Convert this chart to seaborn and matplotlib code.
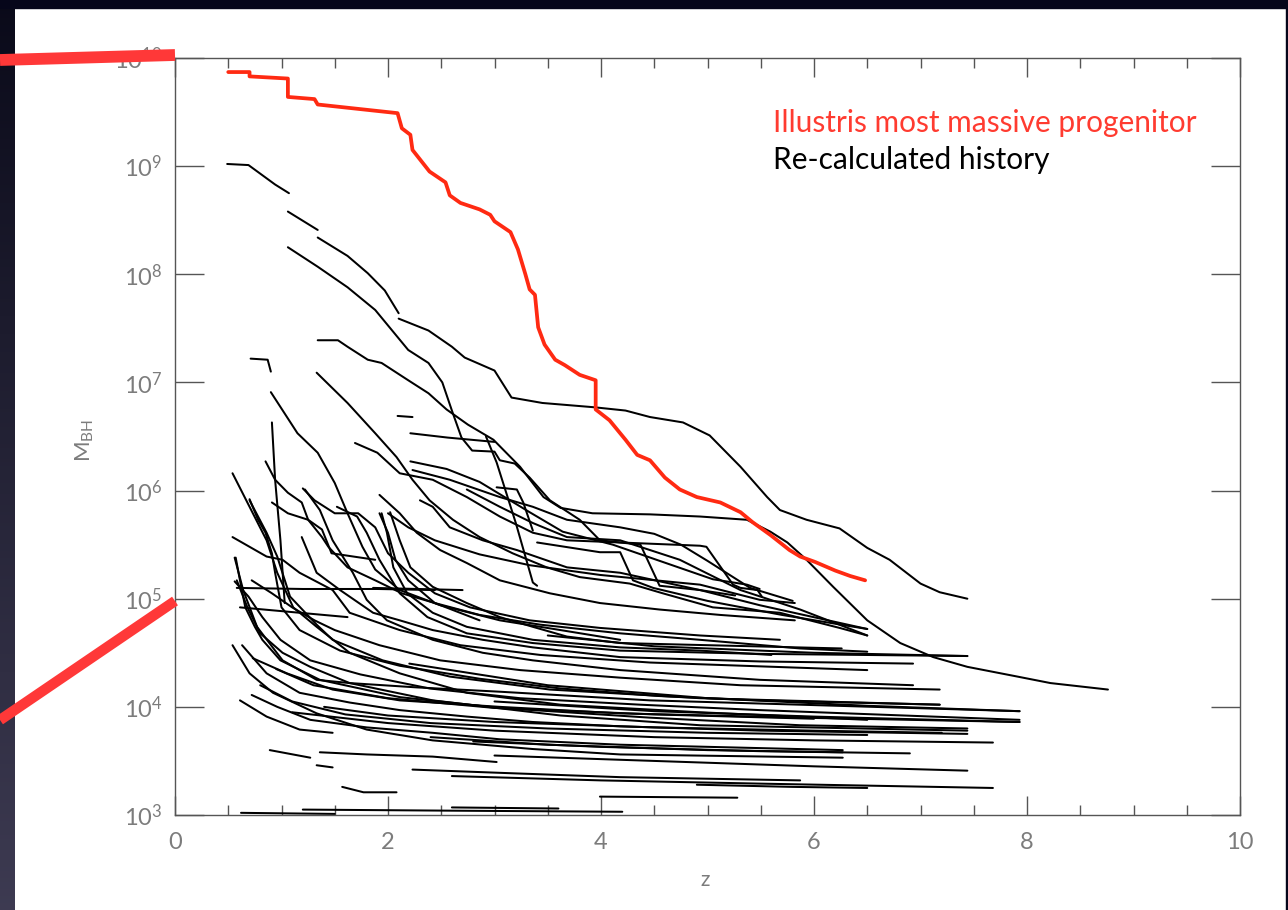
import numpy as np
import pandas as pd
import matplotlib
matplotlib.use("Agg")
import matplotlib.pyplot as plt
import seaborn as sns
from matplotlib.ticker import MultipleLocator, NullLocator, FixedLocator, FuncFormatter
from matplotlib.lines import Line2D
from matplotlib.patches import Rectangle

# ---------------- data: (redshift z, log10 M_BH) ----------------
red_z = [0.50, 0.70, 0.70, 1.06, 1.06, 1.31, 1.34, 2.09, 2.13, 2.21, 2.23, 2.39, 2.54, 2.58, 2.68, 2.86,
         2.96, 3.00, 3.15, 3.22, 3.29, 3.33, 3.38, 3.41, 3.47, 3.57, 3.66, 3.80, 3.95, 3.95, 4.08, 4.23,
         4.34, 4.46, 4.60, 4.74, 4.90, 5.12, 5.31, 5.42, 5.59, 5.77, 5.87, 6.01, 6.20, 6.34, 6.48]
red_logm = [9.87, 9.87, 9.83, 9.81, 9.64, 9.62, 9.57, 9.49, 9.35, 9.29, 9.15, 8.95, 8.85, 8.73, 8.66, 8.60,
            8.55, 8.49, 8.39, 8.23, 8.00, 7.86, 7.81, 7.51, 7.35, 7.21, 7.16, 7.07, 7.02, 6.75, 6.65, 6.47,
            6.33, 6.28, 6.12, 6.01, 5.94, 5.89, 5.80, 5.71, 5.59, 5.45, 5.39, 5.34, 5.26, 5.21, 5.17]

hist_A1 = ([0.49, 0.69, 0.94, 1.07], [9.02, 9.01, 8.83, 8.75])
hist_A2 = ([1.06, 1.34], [8.58, 8.41])
hist_A3 = ([1.34, 1.62, 1.81, 1.97, 2.10], [8.34, 8.17, 8.01, 7.85, 7.64])
hist_A4 = ([2.10, 2.38, 2.60, 2.72, 3.00, 3.16, 3.45, 3.94, 4.23, 4.46, 4.77, 5.02, 5.31, 5.56, 5.68,
            5.93, 6.24, 6.50, 6.71, 7.00, 7.18, 7.44],
           [7.59, 7.48, 7.33, 7.23, 7.11, 6.86, 6.81, 6.77, 6.74, 6.68, 6.63, 6.51, 6.22, 5.94, 5.82,
            5.73, 5.65, 5.47, 5.36, 5.14, 5.06, 5.00])
hist_B = ([1.06, 1.34, 1.62, 1.88, 2.19, 2.38, 2.51, 2.60, 2.69, 2.79, 3.00, 3.05, 3.19, 3.33, 3.52,
           3.80, 3.99, 4.37, 4.55, 4.93, 5.26],
          [8.25, 8.07, 7.88, 7.67, 7.30, 7.18, 7.00, 6.74, 6.49, 6.37, 6.36, 6.28, 6.25, 6.12, 5.91,
           5.73, 5.54, 5.50, 5.12, 5.08, 5.03])
hist_C = ([1.34, 1.53, 1.62, 1.81, 1.94, 2.19, 2.38, 2.55, 2.75, 2.99, 3.24, 3.46, 3.62, 3.92, 4.46,
           4.93, 5.37, 5.59, 5.75, 5.93, 6.18, 6.50, 6.81, 7.12, 7.44, 7.91, 8.22, 8.76],
          [7.39, 7.39, 7.33, 7.21, 7.18, 7.02, 6.90, 6.75, 6.61, 6.47, 6.22, 5.94, 5.84, 5.79, 5.78,
           5.76, 5.73, 5.62, 5.52, 5.36, 5.11, 4.80, 4.59, 4.46, 4.37, 4.28, 4.22, 4.16])
hist_hook = ([0.71, 0.87, 0.90], [7.22, 7.21, 7.10])
hist_V1 = ([0.91, 0.94, 0.99, 1.03], [6.63, 6.10, 5.54, 4.96])
hist_G1 = ([0.90, 1.15, 1.34, 1.50, 1.62, 1.76, 1.88, 2.11, 2.49, 3.05, 3.62, 4.18],
           [6.91, 6.53, 6.35, 6.07, 5.79, 5.48, 5.27, 5.08, 4.94, 4.80, 4.71, 4.62])
hist_G2 = ([1.33, 1.62, 1.88, 2.08, 2.23, 2.39, 2.61, 2.86, 3.17, 3.49, 3.80, 4.27, 4.58, 5.05, 5.68, 6.24, 6.50],
           [7.09, 6.81, 6.53, 6.31, 6.10, 5.91, 5.73, 5.57, 5.42, 5.29, 5.20, 5.14, 5.05, 4.92, 4.87, 4.73, 4.66])
hist_D = ([1.69, 1.90, 2.11, 2.42, 2.74, 3.05, 3.36, 3.68, 4.18, 4.93, 4.99, 5.24, 5.31, 5.47, 5.51],
          [6.44, 6.35, 6.16, 6.10, 5.94, 5.76, 5.61, 5.54, 5.52, 5.49, 5.48, 5.13, 5.10, 5.08, 5.02])
hist_HL = ([2.21, 2.56, 3.00], [6.53, 6.49, 6.45])
hist_dash = ([2.09, 2.23], [6.69, 6.68])
hist_diag = ([2.92, 3.02, 3.20, 3.36, 3.40], [6.50, 6.26, 5.70, 5.15, 5.12])
hist_K1 = ([2.21, 2.55, 2.86, 3.33, 3.64, 4.11, 4.58, 5.05, 5.37, 5.49],
           [6.27, 6.20, 6.08, 5.80, 5.62, 5.50, 5.34, 5.18, 5.13, 5.09])
hist_sq = ([3.02, 3.21, 3.27, 3.36], [6.03, 6.01, 5.89, 5.63])
hist_K2 = ([1.92, 2.11, 2.27, 2.49, 2.74, 3.05, 3.52, 3.99, 4.55, 5.12, 5.82],
           [5.96, 5.79, 5.61, 5.45, 5.33, 5.17, 5.05, 4.96, 4.90, 4.85, 4.80])
hist_K3 = ([2.23, 2.58, 3.05, 3.36, 3.68, 4.18, 4.50, 4.75, 5.00, 5.40, 5.80],
           [6.19, 6.10, 5.94, 5.85, 5.73, 5.66, 5.60, 5.50, 5.35, 5.10, 4.98])
hist_P1 = ([3.40, 3.99, 4.18, 4.30, 4.49, 5.00, 5.70, 6.50], [5.52, 5.43, 5.43, 5.17, 5.10, 4.98, 4.85, 4.72])

hist_s1 = ([0.54, 0.70, 0.92, 1.33, 1.80, 2.42, 3.36, 4.18, 6.27], [4.57, 4.31, 4.13, 3.94, 3.79, 3.69, 3.61, 3.56, 3.53])
hist_s2 = ([0.61, 0.86, 1.17, 1.48], [4.06, 3.91, 3.79, 3.76])
hist_s3 = ([0.72, 0.96, 1.27, 1.80, 2.42, 3.05, 4.18, 6.27], [4.11, 4.00, 3.88, 3.81, 3.76, 3.70, 3.65, 3.60])
hist_s4 = ([0.63, 0.86, 1.17, 1.64, 2.11, 2.74, 3.36, 4.18, 5.50, 7.44], [4.57, 4.31, 4.13, 4.04, 3.97, 3.91, 3.86, 3.82, 3.78, 3.75])
hist_s5 = ([0.73, 1.05, 1.48, 2.11, 3.05, 4.18, 5.87, 7.93], [4.45, 4.31, 4.16, 4.06, 4.00, 3.94, 3.90, 3.86])
hist_s6 = ([0.89, 1.27], [3.60, 3.53])
hist_s7 = ([1.33, 1.48], [3.46, 3.44])
hist_s8 = ([1.57, 1.77, 2.08], [3.26, 3.21, 3.21])
hist_s9 = ([1.36, 1.80, 2.42, 3.02], [3.58, 3.56, 3.54, 3.49])
hist_s10 = ([2.23, 3.05, 4.18, 5.87], [3.42, 3.39, 3.35, 3.32])
hist_b1 = ([0.62, 1.50], [3.02, 3.01])
hist_b2 = ([1.20, 2.60, 4.20], [3.05, 3.04, 3.03])
hist_b3 = ([2.60, 3.60], [3.07, 3.06])

hist_m1 = ([0.54, 0.70, 0.86, 0.96, 1.11, 1.33, 1.64, 2.11, 2.74, 3.62, 4.93, 6.50],
           [6.16, 5.85, 5.54, 5.24, 4.92, 4.74, 4.50, 4.31, 4.13, 4.02, 3.95, 3.88])
hist_m2 = ([0.70, 0.86, 0.96, 1.08, 1.33, 1.48, 1.95, 2.58, 3.52, 4.93, 7.18],
           [5.91, 5.61, 5.39, 5.02, 4.76, 4.62, 4.43, 4.28, 4.16, 4.08, 4.02])
hist_m3 = ([0.54, 0.70, 0.86, 1.01, 1.17, 1.48, 1.64, 2.11, 2.68, 3.43, 4.46, 6.50],
           [5.57, 5.48, 5.39, 5.36, 5.24, 5.08, 4.87, 4.71, 4.57, 4.48, 4.41, 4.34])
hist_m4 = ([0.56, 0.64, 0.77, 1.01, 1.33, 1.64, 2.27, 3.05, 4.46, 5.87, 7.93],
           [5.38, 5.08, 4.74, 4.43, 4.25, 4.22, 4.18, 4.14, 4.06, 4.02, 3.96])
hist_m5 = ([0.58, 0.68, 0.80, 1.01, 1.27, 1.64, 2.42, 3.62, 4.93, 7.44],
           [5.17, 4.92, 4.68, 4.50, 4.37, 4.22, 4.06, 3.92, 3.83, 3.78])
hist_m6 = ([1.22, 1.36, 1.48, 1.67, 1.80, 1.99, 2.42, 2.89, 3.36, 4.18, 5.49, 6.93],
           [6.01, 5.82, 5.54, 5.24, 4.99, 4.80, 4.62, 4.50, 4.43, 4.34, 4.25, 4.20])
hist_m7 = ([1.19, 1.33, 1.55, 1.86, 2.11, 2.42, 2.89, 3.36, 4.18, 5.49, 6.93],
           [5.57, 5.24, 5.08, 4.87, 4.80, 4.71, 4.62, 4.55, 4.46, 4.42, 4.40])
hist_m8 = ([1.52, 1.71, 1.80, 1.92, 2.11, 2.37, 2.74, 3.36, 4.18, 5.49, 7.44],
           [5.85, 5.76, 5.61, 5.36, 5.05, 4.83, 4.68, 4.59, 4.52, 4.49, 4.47])
hist_m9 = ([2.02, 2.11, 2.21, 2.42, 2.74, 3.05, 3.36, 3.68, 4.18, 6.26],
           [5.80, 5.54, 5.29, 5.11, 4.96, 4.83, 4.74, 4.65, 4.59, 4.54])
hist_m10 = ([1.94, 1.99, 2.05, 2.18, 2.42, 2.74, 3.36, 4.18, 4.93, 5.60],
            [5.79, 5.61, 5.29, 5.05, 4.87, 4.74, 4.62, 4.55, 4.52, 4.48])
hist_m11 = ([2.30, 2.42, 2.58, 2.89, 3.21, 3.68, 4.18, 4.93, 5.49, 6.50],
            [5.91, 5.85, 5.66, 5.54, 5.45, 5.29, 5.24, 5.08, 4.94, 4.72])
hist_m12 = ([2.74, 3.05, 3.36, 3.68, 4.18, 4.74, 5.31, 5.87, 6.50],
            [6.01, 5.85, 5.70, 5.57, 5.54, 5.36, 5.08, 4.90, 4.66])

hist_L2 = ([0.70, 0.78, 0.85, 0.91, 0.94, 1.00, 1.17, 1.55, 2.11, 2.86, 3.62, 4.55, 5.49, 7.18],
           [5.92, 5.73, 5.61, 5.42, 5.24, 4.92, 4.71, 4.52, 4.38, 4.26, 4.17, 4.10, 4.06, 4.02])
hist_L3 = ([0.85, 0.94, 1.06, 1.19, 1.25, 1.38, 1.44, 1.62, 1.88, 2.13, 2.44, 2.86, 3.43, 4.18, 4.93, 5.87, 6.50],
           [6.27, 6.10, 5.98, 5.89, 5.73, 5.57, 5.48, 5.29, 5.17, 5.05, 4.96, 4.85, 4.76, 4.68, 4.62, 4.54, 4.51])
hist_L4 = ([1.20, 1.31, 1.50, 1.72, 1.88, 2.00, 2.19, 2.44, 2.77, 3.33, 3.99, 4.93, 5.68],
           [6.02, 5.91, 5.79, 5.79, 5.66, 5.42, 5.24, 5.05, 4.92, 4.80, 4.73, 4.66, 4.62])
hist_L5 = ([0.91, 1.06, 1.25, 1.38, 1.47, 1.88], [5.89, 5.79, 5.73, 5.64, 5.42, 5.36])
hist_L7 = ([1.92, 2.00, 2.07, 2.19, 2.44, 2.86], [5.79, 5.61, 5.36, 5.17, 4.96, 4.80])
hist_L8 = ([2.00, 2.19, 2.44, 2.86, 3.33, 3.99, 4.93, 5.49, 5.82],
           [5.79, 5.66, 5.54, 5.41, 5.31, 5.22, 5.13, 4.99, 4.96])
hist_L9 = ([0.57, 0.61, 0.66, 0.75, 0.82, 0.99, 1.36, 2.11, 3.05, 4.46, 5.87, 7.44],
           [5.38, 5.17, 4.92, 4.74, 4.62, 4.43, 4.25, 4.09, 3.99, 3.90, 3.83, 3.80])
hist_L10 = ([0.56, 0.69, 0.82, 0.99, 1.27, 1.74, 2.39, 3.24, 4.37, 5.49, 7.93],
            [5.16, 5.02, 4.83, 4.62, 4.43, 4.30, 4.17, 4.08, 4.02, 3.97, 3.88])
hist_L11 = ([0.72, 0.91, 1.10, 1.31, 1.50, 1.92, 2.49, 3.24, 4.18, 5.31, 7.18],
            [5.17, 5.05, 4.92, 4.80, 4.71, 4.57, 4.43, 4.34, 4.27, 4.20, 4.16])
hist_H1 = ([0.58, 1.20, 1.90, 2.44], [5.10, 5.09, 5.09, 5.08])
hist_H2 = ([0.61, 1.62], [4.92, 4.83])
hist_H3 = ([1.86, 2.70], [5.10, 5.08])

hist_r1 = ([1.10, 2.00, 3.00, 4.50, 6.00, 7.68], [3.95, 3.85, 3.78, 3.72, 3.69, 3.67])
hist_r2 = ([2.60, 4.00, 5.50, 7.68], [3.36, 3.32, 3.29, 3.25])
hist_r3 = ([4.90, 5.80, 6.50], [3.28, 3.26, 3.25])
hist_r4 = ([3.99, 5.28], [3.17, 3.16])
hist_r5 = ([3.00, 4.50, 6.00, 7.44], [3.55, 3.50, 3.45, 3.41])
hist_r7 = ([2.20, 3.50, 5.00, 6.50, 7.93], [4.40, 4.20, 4.08, 4.01, 3.96])
hist_r8 = ([3.50, 4.50, 6.00, 7.44], [4.66, 4.56, 4.50, 4.47])
hist_r9 = ([3.00, 4.50, 6.00, 7.93], [4.05, 3.96, 3.91, 3.86])
hist_r10 = ([2.40, 3.50, 5.00, 6.27], [3.72, 3.65, 3.60, 3.58])
hist_n1 = ([0.80, 1.10, 1.60, 2.40, 3.50, 5.00, 6.50], [4.20, 4.05, 3.93, 3.85, 3.80, 3.76, 3.74])
hist_n2 = ([1.40, 2.00, 3.00, 4.50, 6.00, 7.20], [4.00, 3.92, 3.86, 3.81, 3.78, 3.76])
hist_n3 = ([0.95, 1.30, 2.00, 3.00, 4.50, 6.00], [4.35, 4.20, 4.08, 3.99, 3.93, 3.89])
hist_n4 = ([2.80, 4.00, 5.50, 6.90], [3.68, 3.63, 3.59, 3.57])

black_histories = [hist_A1, hist_A2, hist_A3, hist_A4, hist_B, hist_C, hist_hook, hist_V1, hist_G1, hist_G2,
                   hist_D, hist_HL, hist_dash, hist_diag, hist_K1, hist_sq, hist_K2, hist_K3, hist_P1,
                   hist_s1, hist_s2, hist_s3, hist_s4, hist_s5, hist_s6, hist_s7, hist_s8, hist_s9, hist_s10,
                   hist_b1, hist_b2, hist_b3,
                   hist_m1, hist_m2, hist_m3, hist_m4, hist_m5, hist_m6, hist_m7, hist_m8, hist_m9, hist_m10,
                   hist_m11, hist_m12,
                   hist_L2, hist_L3, hist_L4, hist_L5, hist_L7, hist_L8, hist_L9, hist_L10, hist_L11,
                   hist_H1, hist_H2, hist_H3,
                   hist_r1, hist_r2, hist_r3, hist_r4, hist_r5, hist_r7, hist_r8, hist_r9, hist_r10,
                   hist_n1, hist_n2, hist_n3, hist_n4]

legend_red = "Illustris most massive progenitor"
legend_black = "Re-calculated history"
x_ticks = [0, 2, 4, 6, 8, 10]
y_decades = [3, 4, 5, 6, 7, 8, 9, 10]

# ---------------- build tables ----------------
rows = []
for i, (zs, ls) in enumerate(black_histories):
    assert len(zs) == len(ls)
    for z, l in zip(zs, ls):
        rows.append({"z": z, "M": 10.0 ** l, "curve": i})
df_black = pd.DataFrame(rows)
assert len(red_z) == len(red_logm)
df_red = pd.DataFrame({"z": red_z, "M": 10.0 ** np.array(red_logm), "curve": 0})

# ---------------- style ----------------
sns.set_theme(style="ticks")
plt.rcParams["font.family"] = ["Lato", "DejaVu Sans"]
plt.rcParams["mathtext.fontset"] = "custom"
plt.rcParams["mathtext.rm"] = "Lato"
plt.rcParams["mathtext.it"] = "Lato"

W, H = 1288, 910
fig = plt.figure(figsize=(W / 100, H / 100), dpi=100)
fig.patch.set_facecolor("white")

ax = fig.add_axes([175 / W, 1 - 815 / H, (1240 - 175) / W, (815 - 58) / H])
ax.set_facecolor("white")

sns.lineplot(data=df_black, x="z", y="M", units="curve", estimator=None, sort=False,
             color="black", lw=1.45, ax=ax, legend=False)
sns.lineplot(data=df_red, x="z", y="M", units="curve", estimator=None, sort=False,
             color="#ff2a12", lw=2.7, ax=ax, legend=False, zorder=5)

ax.set_yscale("log")
ax.set_xlim(0, 10)
ax.set_ylim(1e3, 1e10)
ax.set_xlabel("")
ax.set_ylabel("")

grey = "#7c7c7c"
ax.xaxis.set_major_locator(FixedLocator(x_ticks))
ax.xaxis.set_minor_locator(MultipleLocator(0.5))
ax.yaxis.set_major_locator(FixedLocator([10.0 ** d for d in y_decades]))
ax.yaxis.set_minor_locator(NullLocator())
ax.yaxis.set_major_formatter(FuncFormatter(lambda v, p: r"$\mathregular{10^{%d}}$" % round(np.log10(v))))
ax.xaxis.set_major_formatter(FuncFormatter(lambda v, p: "%d" % v))

ax.tick_params(axis="both", which="both", direction="in", top=True, right=True,
               color="#555555", width=1.0, labelcolor=grey)
ax.tick_params(axis="x", which="major", length=14, labelsize=17, pad=12)
ax.tick_params(axis="x", which="minor", length=7)
ax.tick_params(axis="y", which="major", length=21, labelsize=17, pad=9)
for s in ax.spines.values():
    s.set_color("#555555")
    s.set_linewidth(1.0)

ax.text(0.5615, 0.914, legend_red, transform=ax.transAxes, color="#ff3b30",
        fontsize=21.5, va="center", ha="left")
ax.text(0.5615, 0.865, legend_black, transform=ax.transAxes, color="black",
        fontsize=21.5, va="center", ha="left")

fig.text(85 / W, 1 - 440 / H, r"M$_{\mathregular{BH}}$", rotation=90, color=grey,
         fontsize=16, ha="center", va="center")
fig.text(705 / W, 1 - 880 / H, "z", color=grey, fontsize=15, ha="center", va="center")

# ---------------- slide frame (dark border) and zoom-guide lines ----------------
grad_ax = fig.add_axes([0, 0, 15 / W, 1])
grad = np.linspace(0, 1, 256).reshape(-1, 1)
top_c = np.array([0.04, 0.04, 0.10])
bot_c = np.array([0.24, 0.23, 0.32])
img = top_c[None, None, :] * (1 - grad[:, :, None]) + bot_c[None, None, :] * grad[:, :, None]
grad_ax.imshow(img, aspect="auto", extent=[0, 1, 0, 1], origin="upper")
grad_ax.axis("off")
fig.add_artist(Rectangle((0, 1 - 8 / H), 1, 8 / H, transform=fig.transFigure,
                         color="#06061a", zorder=10))
fig.add_artist(Rectangle((1 - 2 / W, 0), 2 / W, 1, transform=fig.transFigure,
                         color="#06061a", zorder=10))

fig.add_artist(Line2D([0, 175 / W], [1 - 60 / H, 1 - 55 / H], transform=fig.transFigure,
                      color="#ff3838", lw=8.5, solid_capstyle="butt", zorder=20))
fig.add_artist(Line2D([0, 175 / W], [1 - 720 / H, 1 - 601 / H], transform=fig.transFigure,
                      color="#ff3838", lw=7.5, solid_capstyle="butt", zorder=20))

fig.savefig("out.png", dpi=100, facecolor=fig.get_facecolor())
